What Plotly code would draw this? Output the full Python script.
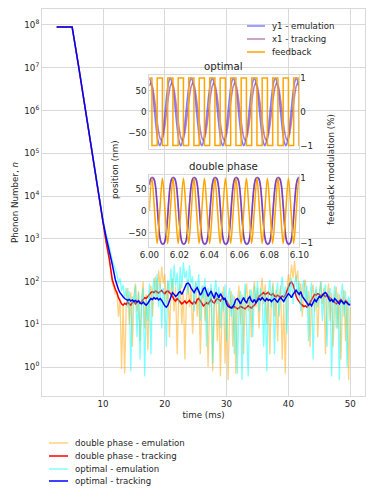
import numpy as np
import plotly.graph_objects as go

# ---- main panel data -------------------------------------------------------
t_decay = [2.5, 5.0, 6.0, 7.0, 8.0, 9.0, 10.0, 10.5, 11.0, 11.5, 12.0]
dp_emu_decay = [9e7, 9e7, 1.2e7, 1.4e6, 1.6e5, 1.8e4, 2.2e3, 800, 320, 95, 50]
dp_trk_decay = [9e7, 9e7, 1.2e7, 1.4e6, 1.6e5, 1.8e4, 2.2e3, 850, 350, 110, 65]
op_emu_decay = [9e7, 9e7, 1.2e7, 1.4e6, 1.6e5, 1.9e4, 2.8e3, 1300, 700, 320, 180]
op_trk_decay = [9e7, 9e7, 1.2e7, 1.4e6, 1.6e5, 1.8e4, 2.5e3, 1100, 550, 250, 110]

t_noise = np.round(np.arange(12.25, 50.01, 0.25), 2)

op_trk = [80, 65, 55, 48, 44, 40, 38, 36,
          38, 35, 37, 34, 36, 33, 35, 31,
          30, 33, 30, 28, 31, 35, 40, 38,
          42, 39, 41, 37, 40, 36, 30, 27,
          25, 28, 35, 45, 55, 50, 45, 48,
          55, 58, 50, 60, 75, 88, 92, 85,
          70, 62, 55, 65, 72, 60, 48, 55,
          68, 72, 55, 45, 52, 60, 48, 40,
          55, 50, 42, 52, 45, 38, 40, 30,
          26, 25, 24, 26, 30, 38, 40, 35,
          30, 36, 42, 35, 32, 40, 44, 36,
          33, 38, 32, 36, 40, 37, 42, 38,
          35, 40, 36, 38, 34, 37, 40, 36,
          33, 38, 42, 38, 34, 40, 45, 52,
          48, 42, 50, 58, 62, 55, 50, 58,
          45, 40, 36, 32, 28, 30, 27, 32,
          38, 34, 40, 45, 42, 48, 52, 55,
          50, 40, 35, 38, 33, 40, 36, 32,
          30, 36, 33, 30, 34, 31, 29, 28]

dp_trk = [55, 42, 34, 30, 28, 31, 29, 33,
          30, 28, 32, 35, 30, 33, 36, 31,
          34, 38, 42, 40, 45, 52, 55, 58,
          55, 60, 57, 54, 58, 62, 55, 52,
          58, 60, 55, 50, 45, 38, 35, 40,
          36, 33, 30, 32, 35, 31, 33, 36,
          32, 30, 34, 31, 38, 40, 35, 30,
          27, 29, 32, 30, 35, 38, 33, 31,
          36, 40, 38, 35, 40, 42, 38, 35,
          30, 26, 25, 24, 26, 25, 23, 24,
          26, 25, 24, 23, 25, 27, 25, 24,
          26, 28, 32, 38, 45, 48, 52, 55,
          50, 52, 56, 50, 48, 52, 46, 44,
          48, 45, 42, 46, 43, 48, 60, 75,
          90, 98, 85, 65, 45, 38, 33, 30,
          28, 26, 27, 25, 28, 32, 38, 45,
          50, 48, 52, 50, 46, 50, 48, 44,
          48, 45, 40, 38, 35, 33, 30, 32,
          35, 38, 34, 30, 36, 32, 30, 29]

op_emu = [150, 90, 120, 60, 85, 40, 70, 25,
          60, 0.8, 45, 30, 80, 5, 55, 1.5,
          35, 70, 0.6, 40, 12, 90, 2, 60,
          120, 40, 150, 25, 90, 8, 70, 35,
          3, 110, 60, 200, 45, 250, 80, 160,
          30, 220, 70, 280, 120, 180, 50, 240,
          90, 130, 20, 100, 55, 150, 12, 80,
          40, 120, 3, 70, 25, 90, 1.2, 55,
          110, 30, 75, 8, 60, 20, 85, 4,
          45, 70, 15, 50, 2, 35, 0.7, 25,
          60, 0.5, 30, 90, 10, 0.6, 40, 65,
          5, 80, 30, 100, 20, 70, 45, 3,
          60, 0.8, 50, 110, 25, 80, 2, 45,
          95, 15, 60, 130, 35, 75, 6, 90,
          50, 120, 30, 85, 140, 45, 100, 20,
          70, 110, 35, 80, 4, 55, 95, 1.5,
          40, 75, 25, 60, 100, 12, 50, 85,
          3, 45, 70, 0.6, 35, 80, 8, 55,
          0.5, 40, 90, 15, 60, 1, 45, 30]

dp_emu = [60, 15, 40, 0.9, 30, 0.7, 25, 70,
          10, 55, 3, 45, 90, 20, 60, 4,
          40, 100, 8, 50, 2.5, 35, 80, 15,
          65, 130, 40, 180, 70, 220, 90, 150,
          30, 100, 5, 60, 120, 20, 75, 2,
          45, 90, 10, 55, 1.5, 40, 110, 25,
          70, 6, 50, 95, 15, 60, 2, 35,
          80, 12, 55, 1, 30, 70, 0.8, 25,
          60, 4, 40, 0.6, 20, 75, 1.2, 35,
          0.5, 25, 60, 3, 45, 0.7, 30, 80,
          10, 50, 2, 40, 90, 20, 65, 5,
          45, 100, 25, 70, 8, 55, 120, 30,
          85, 10, 60, 2, 40, 95, 15, 65,
          4, 45, 80, 1.5, 30, 0.7, 60, 150,
          90, 250, 120, 300, 100, 180, 40, 90,
          15, 70, 110, 25, 60, 3, 50, 85,
          20, 65, 5, 45, 100, 30, 70, 2,
          40, 90, 12, 55, 3, 35, 75, 8,
          50, 1.5, 30, 65, 4, 40, 0.5, 25]

# ---- inset data ------------------------------------------------------------
t_pos = np.round(np.arange(6.0, 6.1005, 0.001), 3)
t_fb = np.round(np.arange(6.0, 6.1020, 0.00175), 5)

opt_y1 = ([80, 72, 50, 18, -18, -50, -72, -80, -72, -50, -18, 18, 50, 72] * 7
          + [80, 72, 50])
opt_x1 = ([61, 68, 61, 42, 15, -15, -42, -61, -68, -61, -42, -15, 15, 42] * 7
          + [61, 68, 61])
opt_fb = [1] + [-1, -1, 1, 1] * 15

dp_y1 = ([60, 74, 77, 74, 60, 24, -24, -60, -74, -77, -74, -60, -24, 24] * 7
         + [60, 74, 77])
dp_x1 = ([59, 73, 75, 73, 59, 24, -24, -59, -73, -75, -73, -59, -24, 24] * 7
         + [59, 73, 75])
dp_fb = [0, 1, 0, -1] * 15

# ---- style -----------------------------------------------------------------
# the page puts the figure 8 px in from the top-left corner
OFF = 8
W, H = 374 - OFF, 498 - OFF
# plot area in page pixels
PX0, PX1, PY0, PY1 = 42, 365, 9, 396
L, R, T, B = PX0 - OFF, W + OFF - PX1, PY0 - OFF, H + OFF - PY1
FONT = "DejaVu Sans"
TXT = "#262626"
GRID = "#d9d9d9"

C_DP_EMU = "rgba(255,165,0,0.5)"
C_DP_TRK = "red"
C_OP_EMU = "rgba(0,255,255,0.5)"
C_OP_TRK = "blue"
C_Y1 = "rgba(0,0,255,0.5)"
C_X1 = "rgba(128,0,128,0.5)"
C_FB = "orange"


def px(x):
    return (x - PX0) / (PX1 - PX0)


def py(y):
    return (PY1 - y) / (PY1 - PY0)


fig = go.Figure()

series = [
    (dp_emu_decay, dp_emu, C_DP_EMU, 1.3, "double phase - emulation"),
    (dp_trk_decay, dp_trk, C_DP_TRK, 1.5, "double phase - tracking"),
    (op_emu_decay, op_emu, C_OP_EMU, 1.3, "optimal - emulation"),
    (op_trk_decay, op_trk, C_OP_TRK, 1.5, "optimal - tracking"),
]
for dec, noise, col, w, name in series:
    fig.add_trace(go.Scatter(
        x=list(t_decay) + list(t_noise), y=list(dec) + list(noise),
        mode="lines", line=dict(color=col, width=w), name=name,
        showlegend=False, xaxis="x", yaxis="y"))

# optimal inset
fig.add_trace(go.Scatter(x=t_pos, y=opt_y1, mode="lines", line=dict(color=C_Y1, width=1.6, shape="spline"),
                         showlegend=False, xaxis="x2", yaxis="y2"))
fig.add_trace(go.Scatter(x=t_pos, y=opt_x1, mode="lines", line=dict(color=C_X1, width=1.6, shape="spline"),
                         showlegend=False, xaxis="x2", yaxis="y2"))
fig.add_trace(go.Scatter(x=t_fb, y=opt_fb, mode="lines", line=dict(color=C_FB, width=1.5, shape="hv"),
                         showlegend=False, xaxis="x2", yaxis="y3"))
# double phase inset
fig.add_trace(go.Scatter(x=t_pos, y=dp_y1, mode="lines", line=dict(color=C_Y1, width=1.6, shape="spline"),
                         showlegend=False, xaxis="x3", yaxis="y4"))
fig.add_trace(go.Scatter(x=t_pos, y=dp_x1, mode="lines", line=dict(color=C_X1, width=1.6, shape="spline"),
                         showlegend=False, xaxis="x3", yaxis="y4"))
fig.add_trace(go.Scatter(x=t_fb, y=dp_fb, mode="lines", line=dict(color=C_FB, width=1.5, shape="spline"),
                         showlegend=False, xaxis="x3", yaxis="y5"))

tick_font = dict(family=FONT, size=8.7, color=TXT)
ax_common = dict(showline=True, mirror=True, linecolor=GRID, linewidth=1,
                 gridcolor=GRID, zeroline=False, ticks="", automargin=False,
                 tickfont=tick_font)
ax_right = dict(side="right", range=[-1.1, 1.1], tickvals=[-1, 0, 1],
                showgrid=False, zeroline=False, ticks="", automargin=False,
                tickfont=tick_font)

ix0, ix1 = px(149.3), px(299.3)
fig.update_layout(
    template="none",
    width=W, height=H,
    margin=dict(l=L, r=R, t=T, b=B, autoexpand=False),
    paper_bgcolor="white", plot_bgcolor="rgba(0,0,0,0)",
    font=dict(family=FONT, size=8.7, color=TXT),
    showlegend=False,
    xaxis=dict(domain=[0, 1], range=[0.125, 52.4], tickvals=[10, 20, 30, 40, 50],
               title=dict(text="time (ms)", standoff=3, font=dict(size=8.7)), **ax_common),
    yaxis=dict(domain=[0, 1], type="log", range=[-0.678, 8.374],
               tickvals=[10 ** k for k in range(9)],
               ticktext=[f"10<sup>{k}</sup>" for k in range(9)],
               title=dict(text="Phonon Number, <i>n</i>", standoff=4, font=dict(size=8.7)), **ax_common),
    xaxis2=dict(domain=[ix0, ix1], anchor="y2", range=[6.0, 6.1], showticklabels=False,
                showgrid=False, **ax_common),
    yaxis2=dict(domain=[py(149), py(74.7)], anchor="x2", range=[-88, 88],
                tickvals=[-50, 0, 50], **ax_common),
    yaxis3=dict(overlaying="y2", anchor="x2", **ax_right),
    xaxis3=dict(domain=[ix0, ix1], anchor="y4", range=[6.0, 6.1],
                tickvals=[6.0, 6.02, 6.04, 6.06, 6.08, 6.1],
                ticktext=["6.00", "6.02", "6.04", "6.06", "6.08", "6.10"],
                showgrid=False, **ax_common),
    yaxis4=dict(domain=[py(246.7), py(175)], anchor="x3", range=[-82, 82],
                tickvals=[-50, 0, 50], **ax_common),
    yaxis5=dict(overlaying="y4", anchor="x3", **ax_right),
)

ann = [
    dict(x=px(224), y=py(66), text="optimal", font=dict(size=10.2)),
    dict(x=px(224), y=py(166), text="double phase", font=dict(size=10.2)),
    dict(x=px(115), y=py(170), text="position (nm)", textangle=-90, font=dict(size=8.8)),
    dict(x=px(331), y=py(170), text="feedback modulation (%)", textangle=-90, font=dict(size=8.8)),
]
for a in ann:
    fig.add_annotation(xref="paper", yref="paper", showarrow=False,
                       xanchor="center", yanchor="middle", **a)


# legends drawn as line swatches + text
def legend_rows(entries, x_line0, x_line1, x_text, ys):
    for (col, label), y in zip(entries, ys):
        fig.add_shape(type="line", xref="paper", yref="paper",
                      x0=px(x_line0), x1=px(x_line1), y0=py(y), y1=py(y),
                      line=dict(color=col, width=1.5))
        fig.add_annotation(xref="paper", yref="paper", x=px(x_text), y=py(y),
                           text=label, showarrow=False, xanchor="left", yanchor="middle",
                           font=dict(size=8.6))


legend_rows([(C_Y1, "y1 - emulation"), (C_X1, "x1 - tracking"), (C_FB, "feedback")],
            247, 265, 270, [26, 39, 52])
legend_rows([(s[2], s[4]) for s in series], 49, 68, 73, [443, 456, 469, 481])

fig.write_html("out.html")
